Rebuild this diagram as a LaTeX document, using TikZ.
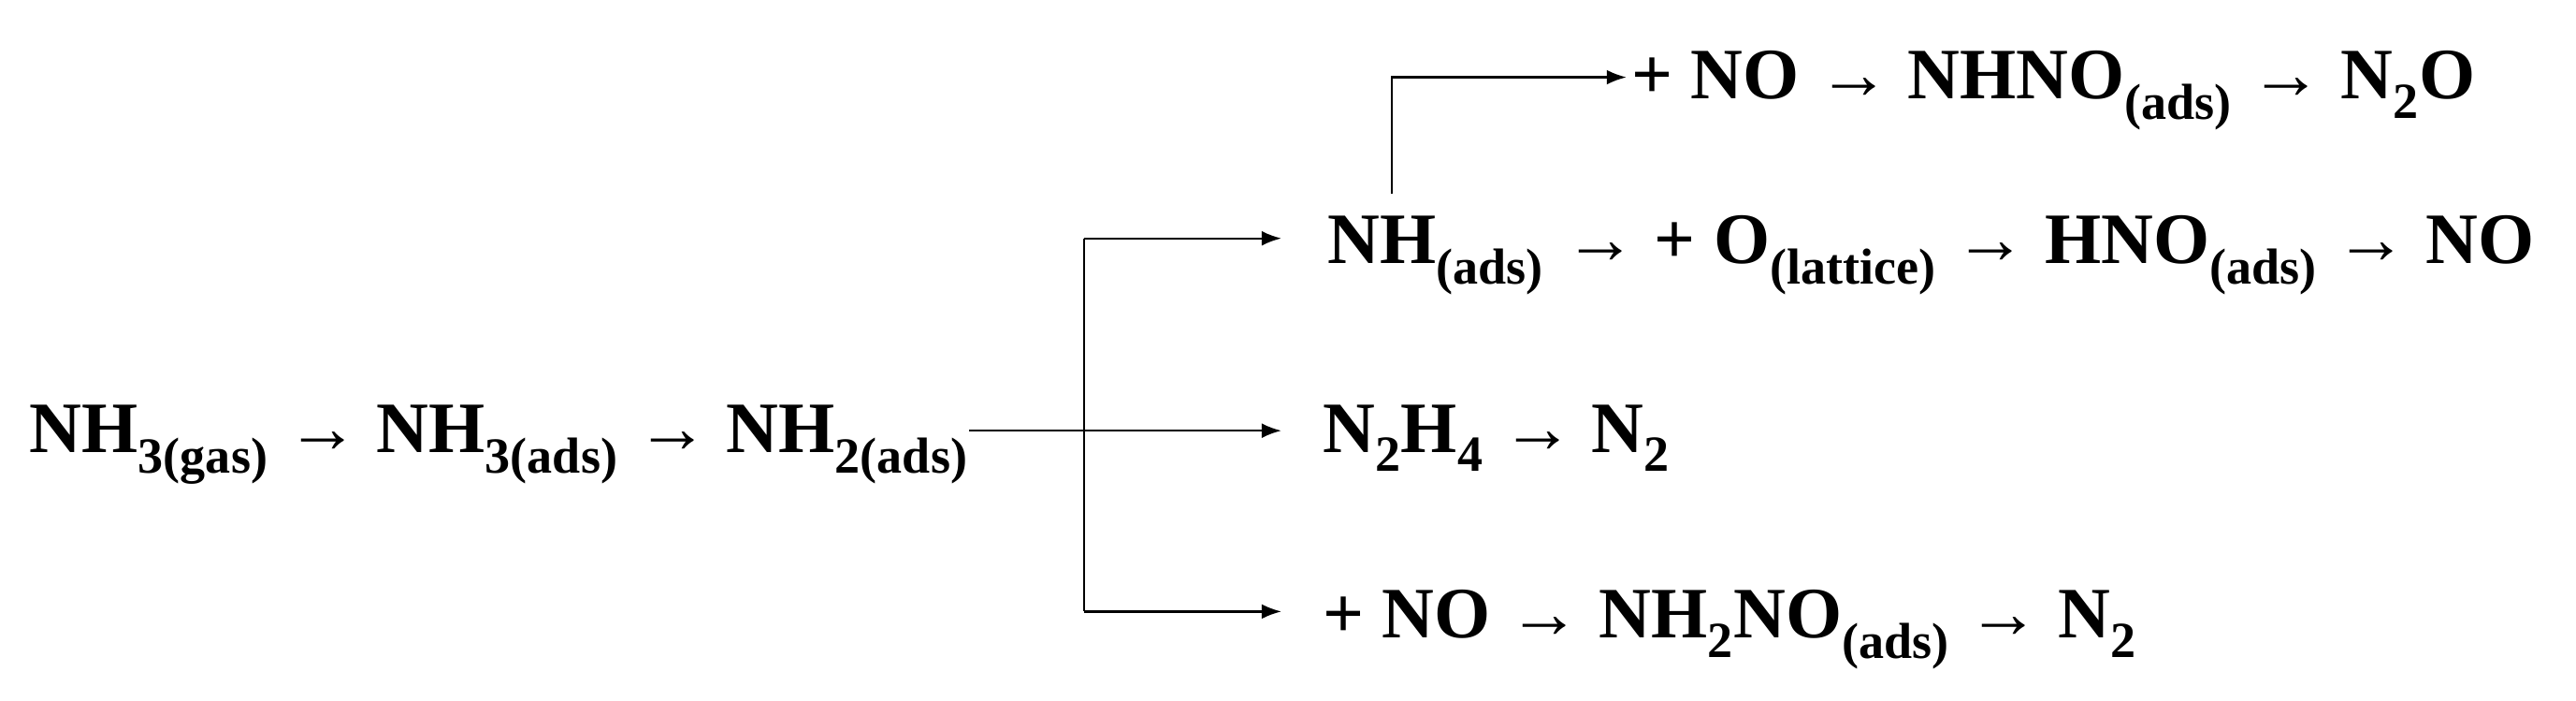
\documentclass[tikz,border=0pt]{standalone}
\usepackage{fontspec}
\setmainfont{Liberation Serif}
\usetikzlibrary{arrows.meta,positioning}
\newcommand{\sub}[1]{\textsubscript{#1}}
\begin{document}
\begin{tikzpicture}[x=1pt,y=-1pt]
	\tikzset{chem/.style={font=\fontsize{44}{48}\selectfont\bfseries, inner sep=0pt, anchor=base west},
		link/.style={line width=1.3pt, -{Latex[length=12pt,width=9pt]}}}
	\useasboundingbox (0,0) rectangle (1568,426);
	% reaction rows
	\node [chem] (chain) at (18,275) {NH\sub{3(gas)} → NH\sub{3(ads)} → NH\sub{2(ads)}};
	\node [chem] (nhno) at (993,60) {+ NO → NHNO\sub{(ads)} → N\sub{2}O};
	\node [chem] (nh) at (808,160) {NH\sub{(ads)}};
	\node [chem, right=12pt of nh.base east, anchor=base west] (hno) {→ + O\sub{(lattice)} → HNO\sub{(ads)} → NO};
	\node [chem] (n2h4) at (805,275) {N\sub{2}H\sub{4} → N\sub{2}};
	\node [chem] (nh2no) at (805,388) {+ NO → NH\sub{2}NO\sub{(ads)} → N\sub{2}};
	% branch points
	\coordinate (split) at (660,262);
	\coordinate (up) at (847,118);
	\draw [link] (590,262) -- (780,262);
	\draw [line width=1.3pt] (660,145) -- (660,372);
	\draw [link] (660,145) -- (780,145);
	\draw [link] (660,372) -- (780,372);
	\draw [link] (up) -- (847,47) -- (990,47);
\end{tikzpicture}
\end{document}
